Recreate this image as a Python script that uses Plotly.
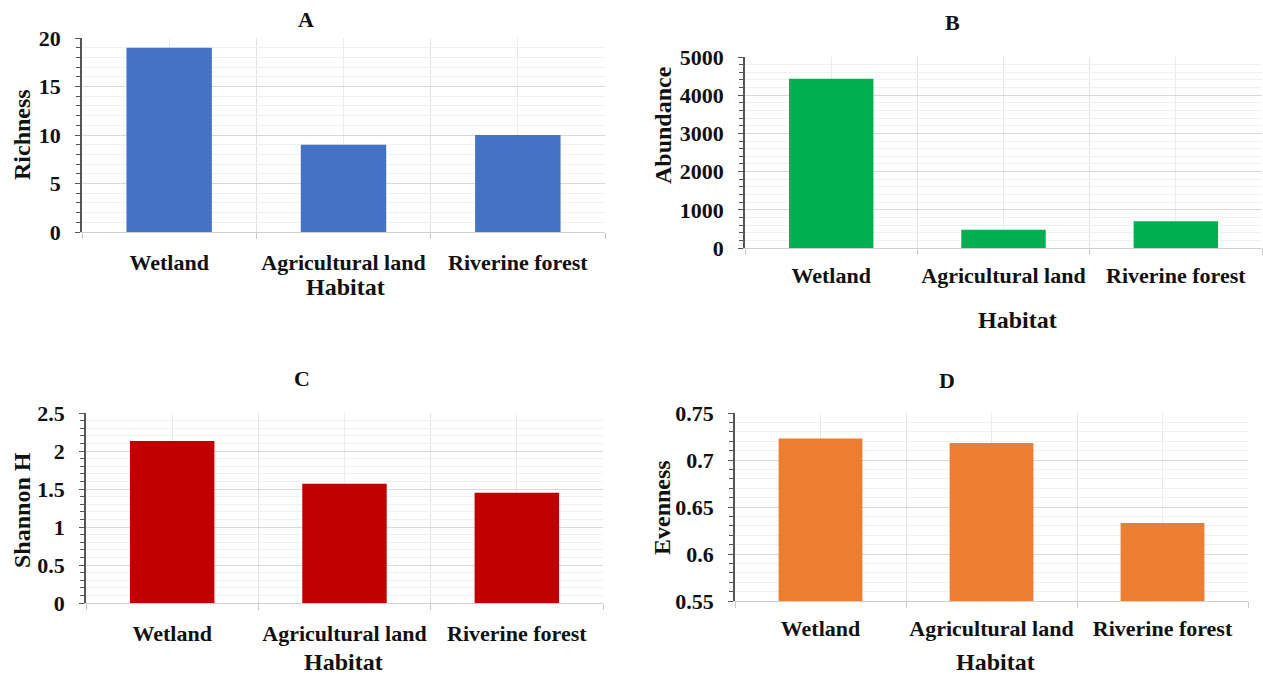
import plotly.graph_objects as go

categories = ["Wetland", "Agricultural land", "Riverine forest"]
richness = [19, 9, 10]
abundance = [4430, 480, 700]
shannon = [2.13, 1.57, 1.45]
evenness = [0.723, 0.718, 0.633]

panel_titles = ["A", "B", "C", "D"]
y_titles = ["Richness", "Abundance", "Shannon H", "Evenness"]
x_title = "Habitat"
bar_colors = ["#4472C4", "#00B050", "#C00000", "#ED7D31"]
y_ranges = [[0, 20], [0, 5000], [0, 2.5], [0.55, 0.75]]
y_major = [5, 1000, 0.5, 0.05]
y_minor = [1, 200, 0.1, 0.01]
series = [richness, abundance, shannon, evenness]

W, H = 1263, 674
FONT = "Liberation Serif"
TXT = "#111111"

# plot-area rectangles in pixels: (x0, x1, ytop, ybottom)
boxes = [(82, 605, 38, 232), (745, 1262, 57, 248), (86, 603, 413, 603), (735, 1248, 413, 601)]
# annotation positions in pixels
title_pos = [(306, 19), (952, 22), (302, 378), (947, 380)]
ytitle_pos = [(22, 135), (663, 125), (22, 510), (662, 508)]
xtitle_pos = [(345, 287), (1017, 320), (343, 662), (995, 662)]
tick_standoff = [11, 8, 11, 8]


def px(x):
    return x / W


def py(y):
    return 1 - y / H


pos = list(range(len(categories)))
bounds = [p - 0.5 for p in pos] + [pos[-1] + 0.5]

fig = go.Figure()
annotations = []
for i in range(4):
    sfx = "" if i == 0 else str(i + 1)
    fig.add_trace(go.Bar(
        x=pos, y=series[i], marker=dict(color=bar_colors[i], line=dict(width=0)),
        xaxis="x" + sfx, yaxis="y" + sfx, showlegend=False,
    ))
    x0, x1, yt, yb = boxes[i]
    fig.update_layout(**{
        "xaxis" + sfx: dict(
            domain=[px(x0), px(x1)], anchor="y" + sfx, automargin=False,
            range=[bounds[0], bounds[-1]],
            tickmode="array", tickvals=pos, ticktext=categories,
            ticks="", showgrid=True, gridcolor="#ebebeb", gridwidth=1,
            minor=dict(tickmode="array", tickvals=bounds, ticks="outside", ticklen=6,
                       tickcolor="#c8c8c8", showgrid=True, gridcolor="#e3e3e3"),
            showline=True, linecolor="#d0d0d0", linewidth=1, zeroline=False,
            tickfont=dict(family=FONT, size=22, color=TXT, weight="bold"),
            ticklabelstandoff=tick_standoff[i],
        ),
        "yaxis" + sfx: dict(
            domain=[py(yb), py(yt)], anchor="x" + sfx, automargin=False,
            range=y_ranges[i], tickmode="linear", tick0=y_ranges[i][0], dtick=y_major[i],
            showgrid=True, gridcolor="#d9d9d9", gridwidth=1,
            minor=dict(dtick=y_minor[i], tick0=y_ranges[i][0], showgrid=True, gridcolor="#f1f1f1",
                       ticks="outside", ticklen=4, tickcolor="#555555"),
            ticks="outside", ticklen=5, tickcolor="#555555",
            showline=True, linecolor="#555555", linewidth=1.5, zeroline=False,
            tickfont=dict(family=FONT, size=22, color=TXT, weight="bold"),
            ticklabelstandoff=10,
        ),
    })
    tx, ty = title_pos[i]
    annotations.append(dict(text=panel_titles[i], x=px(tx), y=py(ty), xref="paper", yref="paper",
                            showarrow=False, xanchor="center", yanchor="middle",
                            font=dict(family=FONT, size=22, color=TXT, weight="bold")))
    ax_, ay_ = ytitle_pos[i]
    annotations.append(dict(text=y_titles[i], x=px(ax_), y=py(ay_), xref="paper", yref="paper",
                            showarrow=False, textangle=-90, xanchor="center", yanchor="middle",
                            font=dict(family=FONT, size=24, color=TXT, weight="bold")))
    hx, hy = xtitle_pos[i]
    annotations.append(dict(text=x_title, x=px(hx), y=py(hy), xref="paper", yref="paper",
                            showarrow=False, xanchor="center", yanchor="middle",
                            font=dict(family=FONT, size=24, color=TXT, weight="bold")))

fig.update_layout(
    width=W, height=H, margin=dict(l=0, r=0, t=0, b=0, autoexpand=False),
    paper_bgcolor="white", plot_bgcolor="white",
    bargap=0.51, annotations=annotations,
    font=dict(family=FONT, color=TXT),
)
fig.update_yaxes(tickformat="d", selector=dict(anchor="x"))
fig.update_yaxes(tickformat="d", selector=dict(anchor="x2"))

fig.write_html("out.html")
